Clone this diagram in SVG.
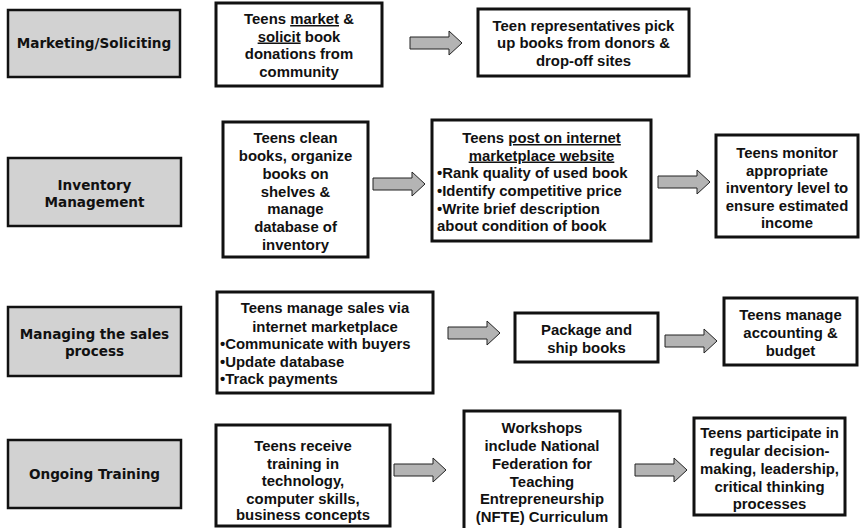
<svg xmlns="http://www.w3.org/2000/svg" width="860" height="528" viewBox="0 0 860 528">
<style>
.cat{fill:#d2d2d2;stroke:#111;stroke-width:2.5}
.box{fill:#fff;stroke:#111;stroke-width:3}
.ct{font-family:"DejaVu Sans",Verdana,sans-serif;font-weight:bold;font-size:13.6px;fill:#111;text-anchor:middle}
.bt{font-family:"Liberation Sans",Arial,sans-serif;font-weight:bold;font-size:14.9px;fill:#111;text-anchor:middle}
.bl{font-family:"Liberation Sans",Arial,sans-serif;font-weight:bold;font-size:14.9px;fill:#111;text-anchor:start}
.arr{fill:#b4b4b4;stroke:#222;stroke-width:1}
.u{text-decoration:underline}
</style>
<defs>
<path id="arrow" d="M0,-6 L39,-6 L39,-12 L52,0 L39,12 L39,6 L0,6 Z"/>
</defs>

<g id="connectors">
<use href="#arrow" class="arr" transform="translate(410,43)"/>
<use href="#arrow" class="arr" transform="translate(373,184)"/>
<use href="#arrow" class="arr" transform="translate(658,182)"/>
<use href="#arrow" class="arr" transform="translate(448,333)"/>
<use href="#arrow" class="arr" transform="translate(665,341)"/>
<use href="#arrow" class="arr" transform="translate(394,470)"/>
<use href="#arrow" class="arr" transform="translate(635,470)"/>
</g>

<g id="cat-marketing">
<rect class="cat" x="8" y="10" width="172" height="67"/>
<text class="ct" x="94" y="48">Marketing/Soliciting</text>
</g>
<g id="n-solicit">
<rect class="box" x="216" y="3" width="166" height="83"/>
<text class="bt" x="299" y="24">Teens <tspan class="u">market</tspan> &amp;</text>
<text class="bt" x="299" y="41.5"><tspan class="u">solicit</tspan> book</text>
<text class="bt" x="299" y="59">donations from</text>
<text class="bt" x="299" y="76.5">community</text>
</g>
<g id="n-pickup">
<rect class="box" x="478" y="9" width="211" height="67"/>
<text class="bt" x="583.5" y="30.5">Teen representatives pick</text>
<text class="bt" x="583.5" y="48">up books from donors &amp;</text>
<text class="bt" x="583.5" y="65.5">drop-off sites</text>
</g>

<g id="cat-inventory">
<rect class="cat" x="8" y="158" width="173" height="68"/>
<text class="ct" x="94.5" y="190">Inventory</text>
<text class="ct" x="94.5" y="206.5">Management</text>
</g>
<g id="n-clean">
<rect class="box" x="223" y="122" width="145" height="135"/>
<text class="bt" x="295.5" y="143">Teens clean</text>
<text class="bt" x="295.5" y="161">books, organize</text>
<text class="bt" x="295.5" y="178.5">books on</text>
<text class="bt" x="295.5" y="196.5">shelves &amp;</text>
<text class="bt" x="295.5" y="214">manage</text>
<text class="bt" x="295.5" y="232">database of</text>
<text class="bt" x="295.5" y="250">inventory</text>
</g>
<g id="n-post">
<rect class="box" x="432" y="120" width="219" height="121"/>
<text class="bt" x="541.5" y="143">Teens <tspan class="u">post on internet</tspan></text>
<text class="bt" x="541.5" y="160.5"><tspan class="u">marketplace website</tspan></text>
<text class="bl" x="437" y="178">•Rank quality of used book</text>
<text class="bl" x="437" y="196">•Identify competitive price</text>
<text class="bl" x="437" y="213.5">•Write brief description</text>
<text class="bl" x="437" y="231">about condition of book</text>
</g>
<g id="n-monitor">
<rect class="box" x="716" y="135" width="142" height="102"/>
<text class="bt" x="787" y="158">Teens monitor</text>
<text class="bt" x="787" y="175.5">appropriate</text>
<text class="bt" x="787" y="193">inventory level to</text>
<text class="bt" x="787" y="210.5">ensure estimated</text>
<text class="bt" x="787" y="228">income</text>
</g>

<g id="cat-sales">
<rect class="cat" x="8" y="307" width="173" height="69"/>
<text class="ct" x="94.5" y="339">Managing the sales</text>
<text class="ct" x="94.5" y="356">process</text>
</g>
<g id="n-sales">
<rect class="box" x="217" y="292" width="216" height="101"/>
<text class="bt" x="325" y="313">Teens manage sales via</text>
<text class="bt" x="325" y="331.5">internet marketplace</text>
<text class="bl" x="220" y="349">•Communicate with buyers</text>
<text class="bl" x="220" y="367">•Update database</text>
<text class="bl" x="220" y="384">•Track payments</text>
</g>
<g id="n-package">
<rect class="box" x="515" y="313" width="143" height="49"/>
<text class="bt" x="586.5" y="335">Package and</text>
<text class="bt" x="586.5" y="353">ship books</text>
</g>
<g id="n-accounting">
<rect class="box" x="724" y="298" width="133" height="67"/>
<text class="bt" x="790.5" y="320">Teens manage</text>
<text class="bt" x="790.5" y="338">accounting &amp;</text>
<text class="bt" x="790.5" y="356">budget</text>
</g>

<g id="cat-training">
<rect class="cat" x="8" y="440" width="173" height="68"/>
<text class="ct" x="94.5" y="479">Ongoing Training</text>
</g>
<g id="n-training">
<rect class="box" x="216" y="425" width="174" height="101"/>
<text class="bt" x="303" y="451">Teens receive</text>
<text class="bt" x="303" y="468.5">training in</text>
<text class="bt" x="303" y="486">technology,</text>
<text class="bt" x="303" y="503.5">computer skills,</text>
<text class="bt" x="303" y="520">business concepts</text>
</g>
<g id="n-workshops">
<rect class="box" x="464" y="411" width="156" height="122"/>
<text class="bt" x="542" y="433">Workshops</text>
<text class="bt" x="542" y="451">include National</text>
<text class="bt" x="542" y="469">Federation for</text>
<text class="bt" x="542" y="487">Teaching</text>
<text class="bt" x="542" y="504">Entrepreneurship</text>
<text class="bt" x="542" y="522">(NFTE) Curriculum</text>
</g>
<g id="n-participate">
<rect class="box" x="694" y="418" width="151" height="97"/>
<text class="bt" x="769.5" y="438">Teens participate in</text>
<text class="bt" x="769.5" y="456">regular decision-</text>
<text class="bt" x="769.5" y="474">making, leadership,</text>
<text class="bt" x="769.5" y="492">critical thinking</text>
<text class="bt" x="769.5" y="509">processes</text>
</g>
</svg>
